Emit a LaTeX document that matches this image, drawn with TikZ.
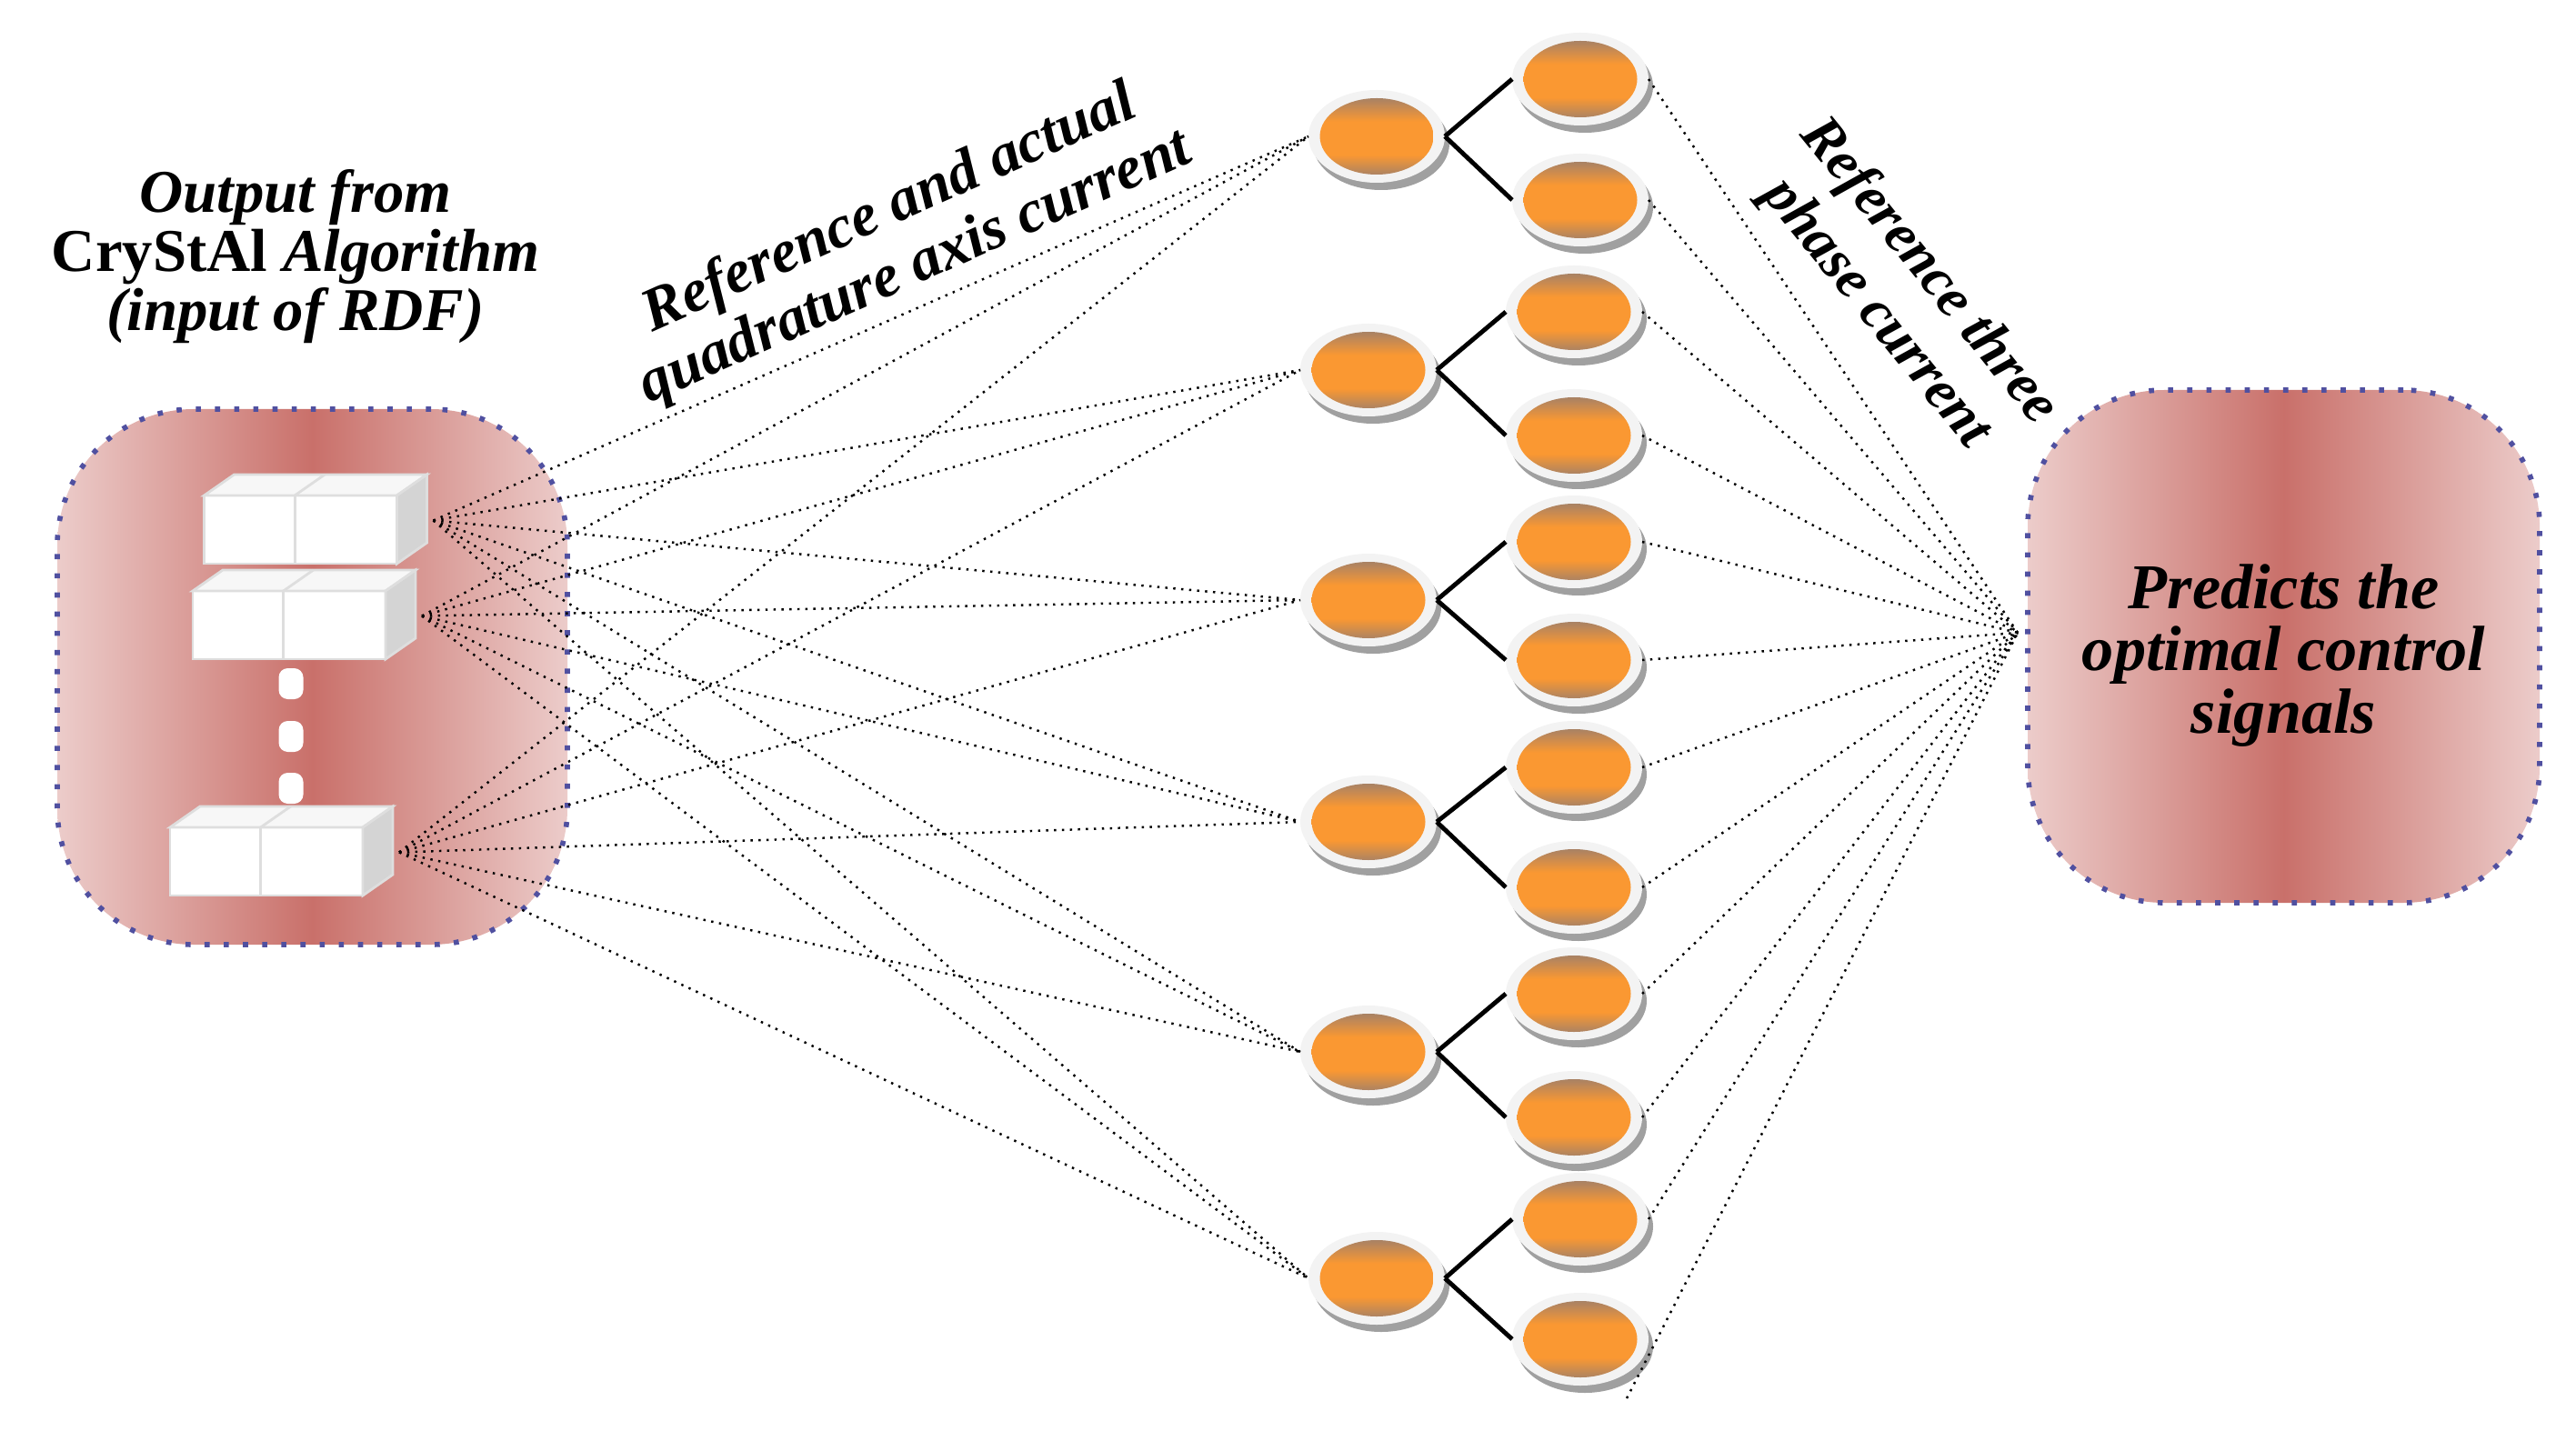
\documentclass[tikz,border=0pt]{standalone}
\usepackage{fontspec}
\setmainfont{Liberation Serif}
\usetikzlibrary{shapes.geometric, shadows, calc}
\definecolor{BoxEdge}{RGB}{236, 204, 202}
\definecolor{BoxMid}{RGB}{201, 112, 106}
\definecolor{BoxLine}{RGB}{80, 80, 160}
\definecolor{RingGray}{RGB}{243, 243, 243}
\definecolor{ShadowGray}{RGB}{160, 160, 160}
\definecolor{CoreGray}{RGB}{140, 122, 118}
\definecolor{CoreOrange}{RGB}{250, 152, 50}
\definecolor{SlabSide}{RGB}{212, 212, 212}
\definecolor{SlabEdge}{RGB}{222, 222, 222}

% orange core of a tree node, grey only near its rim
\pgfdeclareverticalshading{coreshade}{100bp}{color(0bp)=(CoreGray); color(25bp)=(CoreGray);
    color(40bp)=(CoreOrange); color(58bp)=(CoreOrange); color(75bp)=(CoreGray); color(100bp)=(CoreGray)}

% one white data slab with its top and side faces
\newcommand{\slab}[2]{%
  \node[slabfront] (#1) at (#2) {};
  \path[slabtop] (#1.north west) -- ++(0.33,0.23) -- ++(2.12,0) -- (#1.north east) -- cycle;
  \path[slabside] (#1.north east) -- ++(0.33,0.23) -- ++(0,-0.75) -- (#1.south east) -- cycle;
  \draw[slabline] ($(#1.north west)!0.47!(#1.north east)$) coordinate (#1-m) -- ($(#1.south west)!0.47!(#1.south east)$);
  \draw[slabline] (#1-m) -- ++(0.33,0.23);
  \coordinate (#1-out) at ([shift={(0.40,0.10)}]#1.east);
}

\begin{document}
\begin{tikzpicture}[
        box/.style={rectangle, rounded corners=1.5cm, draw=BoxLine, line width=1.6pt, dash pattern=on 1.6pt off 4.4pt,
            left color=BoxEdge, right color=BoxEdge, middle color=BoxMid, inner sep=0pt, align=center},
        slabfront/.style={rectangle, fill=white, draw=SlabEdge, line width=0.8pt, minimum width=2.12cm, minimum height=0.75cm, inner sep=0pt, outer sep=0pt},
        slabtop/.style={fill=white!97!black, draw=SlabEdge, line width=0.8pt},
        slabside/.style={fill=SlabSide, draw=SlabEdge, line width=0.8pt},
        slabline/.style={draw=SlabEdge, line width=0.8pt},
        gap/.style={rectangle, fill=white, rounded corners=1mm, minimum width=0.27cm, minimum height=0.34cm, inner sep=0pt},
        unit/.style={ellipse, minimum width=1.5cm, minimum height=1.02cm, inner sep=0pt, outer sep=0pt, fill=RingGray,
            drop shadow={shadow xshift=0.5mm, shadow yshift=-0.8mm, fill=ShadowGray, opacity=1},
            path picture={\shade[shading=coreshade]
                (path picture bounding box.center) ellipse [x radius=0.625cm, y radius=0.42cm];}},
        wire/.style={line width=0.7pt, dash pattern=on 0.7pt off 1.8pt},
        link/.style={line width=1.4pt},
        tag/.style={font=\bfseries\itshape\fontsize{19}{20}\selectfont, align=center}
    ]
        \useasboundingbox[fill=white] (0,0) rectangle (28.33,-15.74);

        % input and output blocks
        \node[box, minimum width=5.61cm, minimum height=5.89cm] (rdf) at (3.435,-7.445) {};
        \node[box, minimum width=5.63cm, minimum height=5.64cm] (pred) at (25.115,-7.11) {};
        \node[align=center, font=\bfseries\itshape\fontsize{20}{19.5}\selectfont] (predtext) at ([yshift=-1mm]pred.center)
            {Predicts the\\ optimal control\\ signals};

        \slab{s1}{3.305,-5.825}
        \slab{s2}{3.18,-6.875}
        \slab{s3}{2.93,-9.475}
        \node[gap] (d1) at (3.20,-7.52) {};
        \node[gap] (d2) at (3.20,-8.10) {};
        \node[gap] (d3) at (3.20,-8.67) {};

        \node[align=center, font=\bfseries\fontsize{19}{18.5}\selectfont] (title) at (3.25,-2.82)
            {\textit{Output from}\\ CryStAl \textit{Algorithm}\\ \textit{(input of RDF)}};
        \node[tag, rotate=24] (qa) at (9.93,-2.63) {Reference and actual\\ quadrature axis current};
        \node[tag, rotate=-51, font=\bfseries\itshape\fontsize{18}{21}\selectfont] (tp) at (20.92,-3.22) {Reference three\\ phase current};

        % regression trees
        \node[unit] (p1) at (15.14,-1.50) {};
        \node[unit] (p2) at (15.05,-4.07) {};
        \node[unit] (p3) at (15.05,-6.60) {};
        \node[unit] (p4) at (15.05,-9.04) {};
        \node[unit] (p5) at (15.05,-11.57) {};
        \node[unit] (p6) at (15.14,-14.06) {};
        \node[unit] (c1) at (17.38,-0.87) {};
        \node[unit] (c2) at (17.38,-2.20) {};
        \node[unit] (c3) at (17.31,-3.43) {};
        \node[unit] (c4) at (17.31,-4.79) {};
        \node[unit] (c5) at (17.31,-5.96) {};
        \node[unit] (c6) at (17.31,-7.26) {};
        \node[unit] (c7) at (17.31,-8.44) {};
        \node[unit] (c8) at (17.31,-9.76) {};
        \node[unit] (c9) at (17.31,-10.93) {};
        \node[unit] (c10) at (17.31,-12.29) {};
        \node[unit] (c11) at (17.38,-13.41) {};
        \node[unit] (c12) at (17.38,-14.73) {};

        \coordinate (hub) at (22.19,-6.96);
        \coordinate (tail) at (17.89,-15.38);

        \foreach \s in {s1,s2,s3}
            \foreach \p in {1,...,6}
                \draw[wire] (\s-out) -- (p\p.west);
        \foreach \p/\a/\b in {1/1/2,2/3/4,3/5/6,4/7/8,5/9/10,6/11/12} {
            \draw[link] (p\p.east) -- (c\a.west);
            \draw[link] (p\p.east) -- (c\b.west);
        }
        \foreach \c in {1,...,11}
            \draw[wire] (c\c.east) -- (hub);
        \draw[wire] (tail) -- (hub);
    \end{tikzpicture}
\end{document}
